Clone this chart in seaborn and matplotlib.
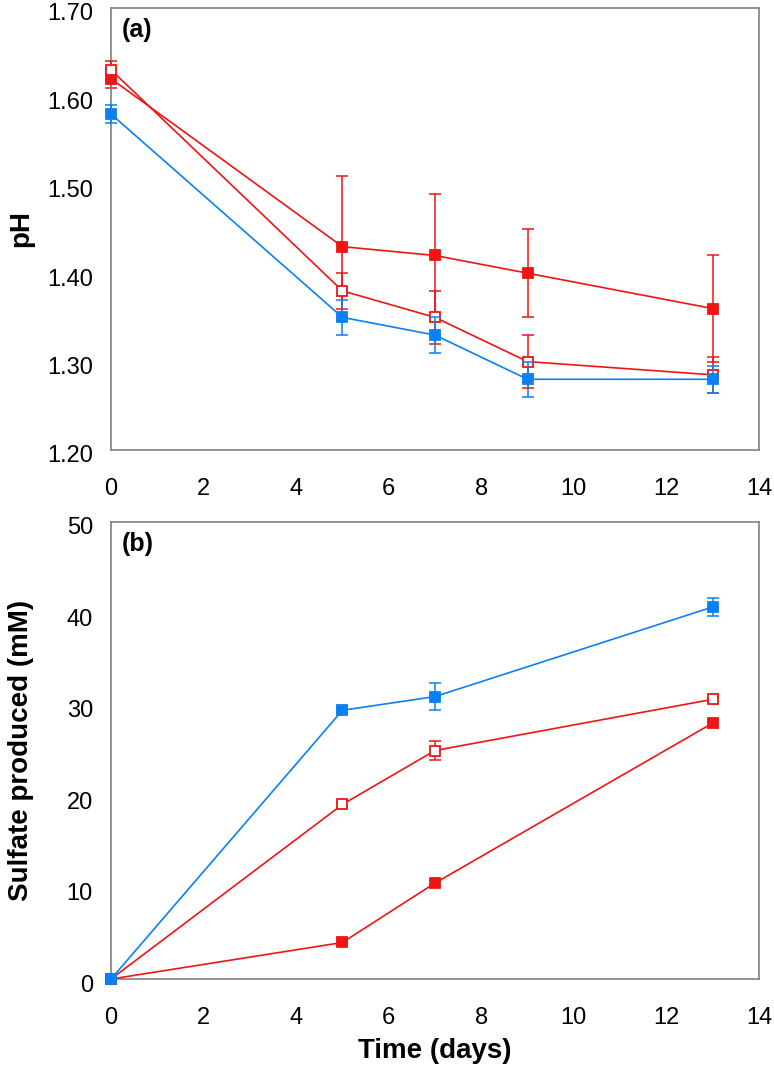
import matplotlib
matplotlib.use("Agg")
import matplotlib.pyplot as plt
import matplotlib.transforms as mtransforms
import seaborn as sns
import pandas as pd

# ---- data ----
days_ph = [0, 5, 7, 9, 13]
ph_blue = [1.58, 1.35, 1.33, 1.28, 1.28]
ph_blue_err = [0.01, 0.02, 0.02, 0.02, 0.015]
ph_red_filled = [1.62, 1.43, 1.42, 1.40, 1.36]
ph_red_filled_err = [0.01, 0.08, 0.07, 0.05, 0.06]
ph_red_open = [1.63, 1.38, 1.35, 1.30, 1.285]
ph_red_open_err = [0.01, 0.02, 0.03, 0.03, 0.02]

days_s = [0, 5, 7, 13]
s_blue = [0.0, 29.4, 30.9, 40.7]
s_blue_err = [0.2, 0.3, 1.5, 1.0]
s_red_open = [0.0, 19.1, 25.0, 30.6]
s_red_open_err = [0.2, 0.3, 1.0, 0.3]
s_red_filled = [0.0, 4.0, 10.5, 28.0]
s_red_filled_err = [0.2, 0.2, 0.3, 0.3]

x_ticks = [0, 2, 4, 6, 8, 10, 12, 14]
ph_ticks = [1.20, 1.30, 1.40, 1.50, 1.60, 1.70]
s_ticks = [0, 10, 20, 30, 40, 50]

BLUE = "#0A80F5"
RED = "#F01414"

sns.set_style("white")
plt.rcParams['font.family'] = ['Liberation Sans', 'DejaVu Sans']
plt.rcParams['axes.labelcolor'] = 'black'
plt.rcParams['text.color'] = 'black'

fig = plt.figure(figsize=(7.74, 10.76), dpi=100)
ax1 = fig.add_axes([0.1434, 0.5818, 0.8372, 0.4108])
ax2 = fig.add_axes([0.1434, 0.0901, 0.8372, 0.4248])


def draw(ax, x, y, e, color, filled, zorder):
    df = pd.DataFrame({"x": x, "y": y})
    eb = ax.errorbar(x, y, yerr=e, fmt="none", ecolor=color, elinewidth=1.1,
                     capsize=4.5, capthick=1.1, zorder=zorder)
    for art in eb.lines[1] + eb.lines[2]:
        art.set_clip_on(False)
    sns.lineplot(data=df, x="x", y="y", ax=ax, color=color, linewidth=1.2,
                 marker="s", markersize=7.5,
                 markerfacecolor=color if filled else "white",
                 markeredgecolor=color, markeredgewidth=1.3,
                 zorder=zorder + 1, clip_on=False)


draw(ax1, days_ph, ph_red_filled, ph_red_filled_err, RED, True, 2)
draw(ax1, days_ph, ph_red_open, ph_red_open_err, RED, False, 4)
draw(ax1, days_ph, ph_blue, ph_blue_err, BLUE, True, 6)

draw(ax2, days_s, s_red_filled, s_red_filled_err, RED, True, 2)
draw(ax2, days_s, s_red_open, s_red_open_err, RED, False, 4)
draw(ax2, days_s, s_blue, s_blue_err, BLUE, True, 6)

for ax in (ax1, ax2):
    ax.set_xlim(0, 14)
    ax.set_xticks(x_ticks)
    ax.set_xticklabels([str(t) for t in x_ticks], fontsize=17)
    ax.tick_params(axis="both", direction="in", length=6, width=1,
                   colors="#333333", labelcolor="black")
    ax.tick_params(axis="x", pad=20)
    ax.tick_params(axis="y", pad=13)
    for sp in ax.spines.values():
        sp.set_color("#808080")
        sp.set_linewidth(1.2)
    ax.grid(False)

ax1.set_ylim(1.20, 1.70)
ax1.set_yticks(ph_ticks)
ax1.set_yticklabels([f"{t:.2f}" for t in ph_ticks], fontsize=17)
ax1.set_xlabel("")
ax1.set_ylabel("pH", fontsize=20, fontweight="bold", color="black")
ax1.yaxis.set_label_coords(-0.119, 0.5)
ax1.text(11 / 648, 1 - 10 / 442, "(a)", transform=ax1.transAxes, fontsize=18,
         fontweight="bold", va="top", ha="left", color="black")

ax2.set_ylim(0, 50)
ax2.set_yticks(s_ticks)
ax2.set_yticklabels([str(t) for t in s_ticks], fontsize=17)
ax2.set_xlabel("Time (days)", fontsize=20, fontweight="bold", color="black")
ax2.xaxis.set_label_coords(0.5, -0.13)
ax2.set_ylabel("Sulfate produced (mM)", fontsize=20, fontweight="bold",
               color="black")
ax2.yaxis.set_label_coords(-0.119, 0.5)
ax2.text(11 / 648, 1 - 10 / 457, "(b)", transform=ax2.transAxes, fontsize=18,
         fontweight="bold", va="top", ha="left", color="black")

# y tick labels sit a few pixels below their ticks in the reference
offset = mtransforms.ScaledTranslation(0, -4 / 100, fig.dpi_scale_trans)
for ax in (ax1, ax2):
    for lab in ax.get_yticklabels():
        lab.set_transform(lab.get_transform() + offset)

fig.savefig("out.png", dpi=100)
